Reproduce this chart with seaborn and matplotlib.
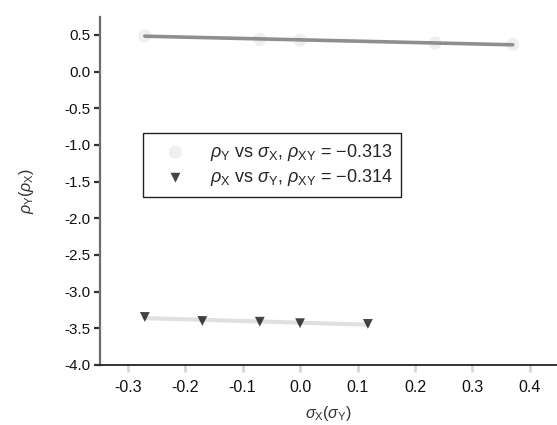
import numpy as np
import pandas as pd
import matplotlib
matplotlib.use("Agg")
import matplotlib.pyplot as plt
import seaborn as sns

# ---- data ----
sigma_x = [-0.27, -0.07, 0.0, 0.235, 0.37]
rho_y = [0.49, 0.44, 0.43, 0.39, 0.37]

sigma_y = [-0.27, -0.17, -0.07, 0.0, 0.118]
rho_x = [-3.345, -3.40, -3.41, -3.43, -3.44]

label_1 = r"$\rho_{\rm Y}$ vs $\sigma_{\rm X}$, $\rho_{\rm XY}$ = $-$0.313"
label_2 = r"$\rho_{\rm X}$ vs $\sigma_{\rm Y}$, $\rho_{\rm XY}$ = $-$0.314"
x_ticks = [-0.3, -0.2, -0.1, 0.0, 0.1, 0.2, 0.3, 0.4]
y_ticks = [-4.0, -3.5, -3.0, -2.5, -2.0, -1.5, -1.0, -0.5, 0.0, 0.5]

df1 = pd.DataFrame({"x": sigma_x, "y": rho_y})
df2 = pd.DataFrame({"x": sigma_y, "y": rho_x})

sns.set_theme(style="white")
plt.rcParams["font.family"] = ["Liberation Sans", "DejaVu Sans"]
plt.rcParams["axes.unicode_minus"] = False
plt.rcParams["mathtext.fontset"] = "custom"
plt.rcParams["mathtext.rm"] = "Liberation Sans"
plt.rcParams["mathtext.it"] = "Liberation Sans:italic"

fig = plt.figure(figsize=(5.57, 4.25), dpi=100)
ax = fig.add_axes([100 / 557, 1 - 365 / 425, 1 - 100 / 557, (365 - 17) / 425])

sns.regplot(data=df1, x="x", y="y", ax=ax, ci=None, label=label_1,
            marker="o",
            scatter_kws=dict(s=90, color="#ececec", edgecolor="none", zorder=2),
            line_kws=dict(color="#8e8e8e", lw=2.6, zorder=3))
sns.regplot(data=df2, x="x", y="y", ax=ax, ci=None, label=label_2,
            marker="v",
            scatter_kws=dict(s=50, color="#151515", edgecolor="none", zorder=4),
            line_kws=dict(color="#e0e0e0", lw=3.0, zorder=1))

ax.set_xlim(-0.348, 0.447)
ax.set_ylim(-4.0, 0.745)
ax.set_xticks(x_ticks)
ax.set_xticklabels([f"{v:.1f}" for v in x_ticks])
ax.set_yticks(y_ticks)
ax.set_yticklabels([f"{v:.1f}" for v in y_ticks])

for s in ["top", "right"]:
    ax.spines[s].set_visible(False)
ax.spines["left"].set_color("#6e6e6e")
ax.spines["left"].set_linewidth(1.6)
ax.spines["bottom"].set_color("#111111")
ax.spines["bottom"].set_linewidth(1.2)

ax.tick_params(axis="y", direction="out", length=4, width=1.6, color="#333333",
               labelsize=11, pad=3, left=True, labelcolor="#111111")
ax.tick_params(axis="x", direction="out", length=5, width=2, color="#d5d5d5",
               labelsize=11.5, pad=6, bottom=True, labelcolor="#111111")

ax.set_xlabel(r"$\sigma_{\rm X}(\sigma_{\rm Y})$", fontsize=11.5, color="#333333", labelpad=6)
ax.set_ylabel(r"$\rho_{\rm Y}(\rho_{\rm X})$", fontsize=11.5, color="#333333", labelpad=20)

leg = ax.legend(loc="upper left", bbox_to_anchor=(0.094, 0.667), borderaxespad=0,
                fontsize=13, frameon=True, fancybox=False, framealpha=1,
                edgecolor="#222222", handlelength=2.6, handletextpad=0.6,
                labelspacing=0.25, borderpad=0.5)
leg.get_frame().set_linewidth(1.0)

fig.savefig("out.png", dpi=100)
